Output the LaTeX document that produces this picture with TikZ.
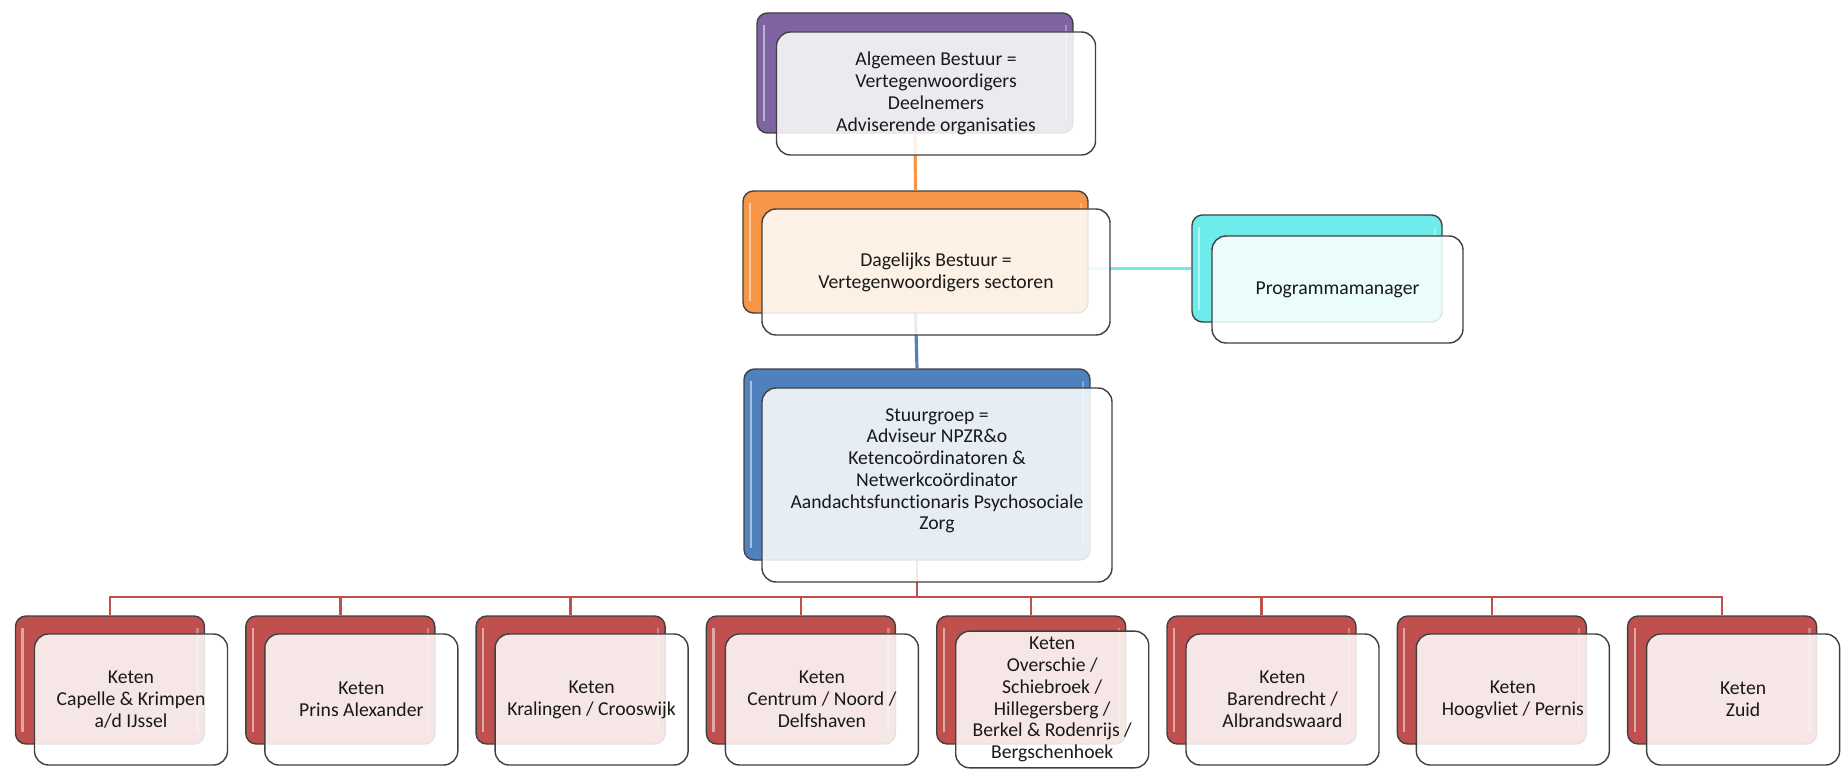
\documentclass[tikz,border=0pt]{standalone}
\usepackage{fontspec}
\setmainfont{Carlito}[Ligatures={NoCommon}]
\definecolor{paars}{HTML}{8064A2}
\definecolor{oranje}{HTML}{F79646}
\definecolor{blauw}{HTML}{4F81BD}
\definecolor{turkoois}{HTML}{6EEBEB}
\definecolor{rood}{HTML}{C0504D}
\begin{document}
\begin{tikzpicture}[
    achter/.style={draw=black!75, line width=0.8pt, rounded corners=6pt,
        path picture={
            \draw[white, opacity=0.5, line width=1.3pt]
                ([xshift=4pt,yshift=-7pt]path picture bounding box.north west) --
                ([xshift=4pt,yshift=7pt]path picture bounding box.south west);
            \draw[white, opacity=0.3, line width=1.3pt]
                ([xshift=-4pt,yshift=-7pt]path picture bounding box.north east) --
                ([xshift=-4pt,yshift=7pt]path picture bounding box.south east);
        }},
    voor/.style={draw=black!75, line width=0.8pt, rounded corners=8pt,
        fill=white, fill opacity=0.86, text opacity=1, text=black!90,
        align=center, font=\fontsize{11.2}{12.4}\selectfont},
    lijn/.style={line width=1.8pt}
]
    % 1. Vaste afmetingen van de tekening
    \useasboundingbox (0,0) rectangle (36.86,-15.42);

    % 2. Achterste (gekleurde) vlakken
    \node[achter, fill=paars, minimum width=6.32cm, minimum height=2.40cm] (ab) at (18.30,-1.46) {};
    \node[achter, fill=oranje, minimum width=6.90cm, minimum height=2.44cm] (db) at (18.31,-5.04) {};
    \node[achter, fill=turkoois, minimum width=5.00cm, minimum height=2.14cm] (pm) at (26.34,-5.37) {};
    \node[achter, fill=blauw, minimum width=6.92cm, minimum height=3.82cm] (sg) at (18.34,-9.29) {};

    % Ketens onderaan
    \node[achter, fill=rood, minimum width=3.78cm, minimum height=2.56cm] (k1) at (2.200,-13.60) {};
    \node[achter, fill=rood, minimum width=3.78cm, minimum height=2.56cm] (k2) at (6.806,-13.60) {};
    \node[achter, fill=rood, minimum width=3.78cm, minimum height=2.56cm] (k3) at (11.412,-13.60) {};
    \node[achter, fill=rood, minimum width=3.78cm, minimum height=2.56cm] (k4) at (16.018,-13.60) {};
    \node[achter, fill=rood, minimum width=3.78cm, minimum height=2.56cm] (k5) at (20.624,-13.60) {};
    \node[achter, fill=rood, minimum width=3.78cm, minimum height=2.56cm] (k6) at (25.230,-13.60) {};
    \node[achter, fill=rood, minimum width=3.78cm, minimum height=2.56cm] (k7) at (29.836,-13.60) {};
    \node[achter, fill=rood, minimum width=3.78cm, minimum height=2.56cm] (k8) at (34.442,-13.60) {};

    % 3. Verbindingslijnen
    \coordinate (rail) at (0,-11.94);
    \draw[lijn, oranje] (ab.south) -- (db.north);
    \draw[lijn, blauw] (db.south) -- (sg.north);
    \draw[lijn, turkoois] (pm.west) -- (pm.west -| db.east);
    \foreach \k in {k1,k2,k3,k4,k5,k6,k7,k8}
        \draw[lijn, rood, line width=1.4pt] (sg.south) -- (sg.south |- rail) -| (\k.north);

    % 4. Voorste (witte) vlakken met tekst
    \node[voor, minimum width=6.38cm, minimum height=2.46cm] (abV) at ([shift={(0.42,-0.41)}]ab)
        {Algemeen Bestuur =\\Vertegenwoordigers\\Deelnemers\\Adviserende organisaties};
    \node[voor, minimum width=6.96cm, minimum height=2.52cm] (dbV) at ([shift={(0.41,-0.40)}]db)
        {Dagelijks Bestuur =\\Vertegenwoordigers sectoren};
    \node[voor, minimum width=5.02cm, minimum height=2.14cm] (pmV) at ([shift={(0.41,-0.42)}]pm)
        {Programmamanager};
    \node[voor, minimum width=7.00cm, minimum height=3.88cm] (sgV) at ([shift={(0.40,-0.41)}]sg)
        {Stuurgroep =\\Adviseur NPZR\&o\\Ketencoördinatoren \&\\Netwerkcoördinator\\Aandachtsfunctionaris Psychosociale\\Zorg\\[0.2cm]};

    \node[voor, minimum width=3.86cm, minimum height=2.62cm] (k1V) at ([shift={(0.42,-0.39)}]k1)
        {Keten\\Capelle \& Krimpen\\a/d IJssel};
    \node[voor, minimum width=3.86cm, minimum height=2.62cm] (k2V) at ([shift={(0.42,-0.39)}]k2)
        {Keten\\Prins Alexander};
    \node[voor, minimum width=3.86cm, minimum height=2.62cm] (k3V) at ([shift={(0.42,-0.39)}]k3)
        {Keten\\Kralingen / Crooswijk};
    \node[voor, minimum width=3.86cm, minimum height=2.62cm] (k4V) at ([shift={(0.42,-0.39)}]k4)
        {Keten\\Centrum / Noord /\\Delfshaven};
    \node[voor, minimum width=3.86cm, minimum height=2.62cm] (k5V) at ([shift={(0.42,-0.39)}]k5)
        {Keten\\Overschie /\\Schiebroek /\\Hillegersberg /\\Berkel \& Rodenrijs /\\Bergschenhoek};
    \node[voor, minimum width=3.86cm, minimum height=2.62cm] (k6V) at ([shift={(0.42,-0.39)}]k6)
        {Keten\\Barendrecht /\\Albrandswaard};
    \node[voor, minimum width=3.86cm, minimum height=2.62cm] (k7V) at ([shift={(0.42,-0.39)}]k7)
        {Keten\\Hoogvliet / Pernis};
    \node[voor, minimum width=3.86cm, minimum height=2.62cm] (k8V) at ([shift={(0.42,-0.39)}]k8)
        {Keten\\Zuid};
\end{tikzpicture}
\end{document}
